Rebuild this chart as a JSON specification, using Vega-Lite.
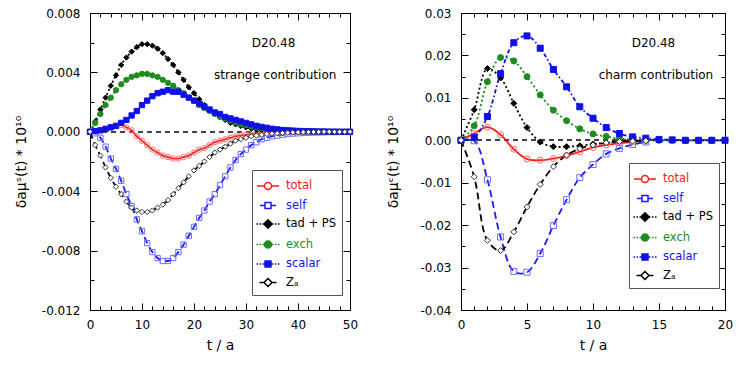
{
  "$schema": "https://vega.github.io/schema/vega-lite/v6.json",
  "padding": {"left": 13, "top": 6, "right": 2, "bottom": 2},
  "config": {
    "view": {"stroke": "#000000", "strokeWidth": 1},
    "font": "DejaVu Sans",
    "axis": {"domain": false, "grid": false, "labelFont": "DejaVu Sans", "labelFontSize": 12, "labelColor": "#000000", "tickColor": "#000000", "tickWidth": 1, "titleFont": "DejaVu Sans", "titleFontSize": 14, "titleFontWeight": "normal", "titleColor": "#000000", "labelFlush": false, "labelOverlap": false}
  },
  "datasets": {
    "strange": [
      {"t":0,"total":0,"self":0,"tadPS":0,"exch":0,"scalar":0,"ZA":0},
      {"t":1,"total":0.00005,"self":-0.0001,"tadPS":0.0007,"exch":0.0006,"scalar":0.00005,"ZA":-0.0009},
      {"t":2,"total":0.0001,"self":-0.0004,"tadPS":0.0015,"exch":0.0012,"scalar":0.0001,"ZA":-0.0016},
      {"t":3,"total":0.0002,"self":-0.001,"tadPS":0.0023,"exch":0.0018,"scalar":0.0002,"ZA":-0.0024},
      {"t":4,"total":0.0003,"self":-0.0018,"tadPS":0.0031,"exch":0.0023,"scalar":0.0003,"ZA":-0.0031},
      {"t":5,"total":0.0004,"self":-0.0025,"tadPS":0.0038,"exch":0.0028,"scalar":0.0004,"ZA":-0.0037},
      {"t":6,"total":0.00045,"self":-0.0033,"tadPS":0.0045,"exch":0.0032,"scalar":0.0006,"ZA":-0.0042},
      {"t":7,"total":0.0003,"self":-0.0042,"tadPS":0.005,"exch":0.0035,"scalar":0.0008,"ZA":-0.0047},
      {"t":8,"total":0.0001,"self":-0.005,"tadPS":0.0054,"exch":0.0037,"scalar":0.0011,"ZA":-0.0051},
      {"t":9,"total":-0.0003,"self":-0.0059,"tadPS":0.0057,"exch":0.0038,"scalar":0.0014,"ZA":-0.0053},
      {"t":10,"total":-0.0006,"self":-0.0067,"tadPS":0.0059,"exch":0.0039,"scalar":0.0018,"ZA":-0.0054},
      {"t":11,"total":-0.0009,"self":-0.0075,"tadPS":0.0059,"exch":0.0039,"scalar":0.0021,"ZA":-0.0054},
      {"t":12,"total":-0.0012,"self":-0.0081,"tadPS":0.0058,"exch":0.0038,"scalar":0.0024,"ZA":-0.0053},
      {"t":13,"total":-0.0014,"self":-0.0085,"tadPS":0.0056,"exch":0.0037,"scalar":0.0026,"ZA":-0.0051},
      {"t":14,"total":-0.0016,"self":-0.0087,"tadPS":0.0053,"exch":0.0035,"scalar":0.0027,"ZA":-0.0049},
      {"t":15,"total":-0.0017,"self":-0.0087,"tadPS":0.0049,"exch":0.0033,"scalar":0.0028,"ZA":-0.0046},
      {"t":16,"total":-0.0018,"self":-0.0085,"tadPS":0.0045,"exch":0.0031,"scalar":0.0027,"ZA":-0.0042},
      {"t":17,"total":-0.0018,"self":-0.0081,"tadPS":0.004,"exch":0.0028,"scalar":0.0027,"ZA":-0.0038},
      {"t":18,"total":-0.0017,"self":-0.0076,"tadPS":0.0035,"exch":0.0026,"scalar":0.0025,"ZA":-0.0034},
      {"t":19,"total":-0.0016,"self":-0.007,"tadPS":0.003,"exch":0.0023,"scalar":0.0023,"ZA":-0.003},
      {"t":20,"total":-0.0014,"self":-0.0064,"tadPS":0.0026,"exch":0.0021,"scalar":0.0021,"ZA":-0.0026},
      {"t":21,"total":-0.0012,"self":-0.0058,"tadPS":0.0022,"exch":0.0018,"scalar":0.0019,"ZA":-0.0023},
      {"t":22,"total":-0.0011,"self":-0.0053,"tadPS":0.0018,"exch":0.0016,"scalar":0.0017,"ZA":-0.002},
      {"t":23,"total":-0.0009,"self":-0.0047,"tadPS":0.0015,"exch":0.0014,"scalar":0.0015,"ZA":-0.0017},
      {"t":24,"total":-0.0007,"self":-0.0042,"tadPS":0.0012,"exch":0.0012,"scalar":0.0013,"ZA":-0.0014},
      {"t":25,"total":-0.0006,"self":-0.0036,"tadPS":0.001,"exch":0.001,"scalar":0.0012,"ZA":-0.0012},
      {"t":26,"total":-0.0005,"self":-0.003,"tadPS":0.0008,"exch":0.0009,"scalar":0.001,"ZA":-0.001},
      {"t":27,"total":-0.0004,"self":-0.0024,"tadPS":0.0006,"exch":0.00075,"scalar":0.0009,"ZA":-0.0008},
      {"t":28,"total":-0.0003,"self":-0.0019,"tadPS":0.0005,"exch":0.00063,"scalar":0.0008,"ZA":-0.0006},
      {"t":29,"total":-0.00025,"self":-0.0015,"tadPS":0.0004,"exch":0.00053,"scalar":0.0007,"ZA":-0.0005},
      {"t":30,"total":-0.0002,"self":-0.0012,"tadPS":0.0003,"exch":0.00044,"scalar":0.0006,"ZA":-0.0004},
      {"t":31,"total":-0.00015,"self":-0.0009,"tadPS":0.00022,"exch":0.00036,"scalar":0.0005,"ZA":-0.0003},
      {"t":32,"total":-0.00012,"self":-0.0007,"tadPS":0.00016,"exch":0.0003,"scalar":0.0004,"ZA":-0.00025},
      {"t":33,"total":-0.0001,"self":-0.0005,"tadPS":0.00012,"exch":0.00024,"scalar":0.00033,"ZA":-0.0002},
      {"t":34,"total":-0.00008,"self":-0.0004,"tadPS":0.00009,"exch":0.0002,"scalar":0.00027,"ZA":-0.00015},
      {"t":35,"total":-0.00006,"self":-0.0003,"tadPS":0.00006,"exch":0.00016,"scalar":0.0002,"ZA":-0.00012},
      {"t":36,"total":-0.00005,"self":-0.00025,"tadPS":0.00004,"exch":0.00013,"scalar":0.00016,"ZA":-0.0001},
      {"t":37,"total":-0.00004,"self":-0.0002,"tadPS":0.00003,"exch":0.0001,"scalar":0.00012,"ZA":-0.00008},
      {"t":38,"total":-0.00003,"self":-0.00015,"tadPS":0.00002,"exch":0.00008,"scalar":0.0001,"ZA":-0.00006},
      {"t":39,"total":-0.00002,"self":-0.00012,"tadPS":0.00001,"exch":0.00006,"scalar":0.00008,"ZA":-0.00004},
      {"t":40,"total":-0.00002,"self":-0.0001,"tadPS":0.00001,"exch":0.00005,"scalar":0.00006,"ZA":-0.00003},
      {"t":41,"total":-0.00001,"self":-0.00008,"tadPS":0,"exch":0.00004,"scalar":0.00005,"ZA":-0.00002},
      {"t":42,"total":-0.00001,"self":-0.00006,"tadPS":0,"exch":0.00003,"scalar":0.00004,"ZA":-0.00002},
      {"t":43,"total":0,"self":-0.00005,"tadPS":0,"exch":0.00002,"scalar":0.00003,"ZA":-0.00001},
      {"t":44,"total":0,"self":-0.00004,"tadPS":0,"exch":0.00002,"scalar":0.00002,"ZA":-0.00001},
      {"t":45,"total":0,"self":-0.00003,"tadPS":0,"exch":0.00001,"scalar":0.00002,"ZA":0},
      {"t":46,"total":0,"self":-0.00002,"tadPS":0,"exch":0.00001,"scalar":0.00001,"ZA":0},
      {"t":47,"total":0,"self":-0.00002,"tadPS":0,"exch":0,"scalar":0.00001,"ZA":0},
      {"t":48,"total":0,"self":-0.00001,"tadPS":0,"exch":0,"scalar":0,"ZA":0},
      {"t":49,"total":0,"self":-0.00001,"tadPS":0,"exch":0,"scalar":0,"ZA":0},
      {"t":50,"total":0,"self":0,"tadPS":0,"exch":0,"scalar":0,"ZA":0}
    ],
    "charm": [
      {"t":0,"total":0,"self":0,"tadPS":0,"exch":0,"scalar":0,"ZA":0},
      {"t":1,"total":0.0016,"self":-0.0001,"tadPS":0.0072,"exch":0.0034,"scalar":0.0007,"ZA":-0.0086},
      {"t":2,"total":0.0031,"self":-0.0093,"tadPS":0.0169,"exch":0.0138,"scalar":0.0056,"ZA":-0.0236},
      {"t":3,"total":0.0013,"self":-0.0228,"tadPS":0.0147,"exch":0.0195,"scalar":0.0157,"ZA":-0.026},
      {"t":4,"total":-0.0021,"self":-0.0309,"tadPS":0.0087,"exch":0.0187,"scalar":0.023,"ZA":-0.0216},
      {"t":5,"total":-0.0044,"self":-0.0311,"tadPS":0.003,"exch":0.015,"scalar":0.0246,"ZA":-0.0157},
      {"t":6,"total":-0.0047,"self":-0.0267,"tadPS":-0.0004,"exch":0.0107,"scalar":0.0217,"ZA":-0.0104},
      {"t":7,"total":-0.0043,"self":-0.0201,"tadPS":-0.0015,"exch":0.0071,"scalar":0.0167,"ZA":-0.0062},
      {"t":8,"total":-0.0036,"self":-0.014,"tadPS":-0.0015,"exch":0.0046,"scalar":0.0126,"ZA":-0.0035},
      {"t":9,"total":-0.0027,"self":-0.0088,"tadPS":-0.0013,"exch":0.0027,"scalar":0.0079,"ZA":-0.002},
      {"t":10,"total":-0.0017,"self":-0.0057,"tadPS":-0.0009,"exch":0.0015,"scalar":0.0052,"ZA":-0.0011},
      {"t":11,"total":-0.0011,"self":-0.0032,"tadPS":-0.0006,"exch":0.0009,"scalar":0.003,"ZA":-0.0006},
      {"t":12,"total":-0.0007,"self":-0.0019,"tadPS":-0.0002,"exch":0.0004,"scalar":0.0016,"ZA":-0.0003},
      {"t":13,"total":-0.0004,"self":-0.001,"tadPS":-0.0001,"exch":0.0002,"scalar":0.0008,"ZA":-0.0002},
      {"t":14,"total":-0.0002,"self":-0.0004,"tadPS":0,"exch":0.0001,"scalar":0.0005,"ZA":-0.0001},
      {"t":15,"tadPS":0,"exch":0,"scalar":0.0002},
      {"t":16,"tadPS":0,"exch":0,"scalar":0.0001},
      {"t":17,"tadPS":0,"exch":0,"scalar":0},
      {"t":18,"tadPS":0,"exch":0,"scalar":0},
      {"t":19,"tadPS":0,"exch":0,"scalar":0},
      {"t":20,"tadPS":0,"exch":0,"scalar":0}
    ]
  },
  "spacing": 27,
  "resolve": {"scale": {"color": "independent"}, "legend": {"color": "independent"}},
  "hconcat": [
    {
      "width": 260,
      "height": 297,
      "data": {"name": "strange"},
      "layer": [
        {
          "mark": {"type": "rule", "color": "#444444", "strokeDash": [5, 4], "strokeWidth": 1},
          "encoding": {"y": {"datum": 0, "type": "quantitative", "axis": null}}
        },
        {
          "transform": [{"fold": ["total", "self", "tadPS", "exch", "scalar", "ZA"], "as": ["series", "v"]}],
          "mark": {"type": "line", "interpolate": "monotone", "strokeWidth": 1.8},
          "encoding": {
            "x": {"field": "t", "type": "quantitative", "scale": {"domain": [0, 50], "nice": false, "zero": false},
              "axis": {"orient": "bottom", "values": [0, 10, 20, 30, 40, 50], "tickSize": -7, "labelPadding": 16, "title": "t / a", "titlePadding": 8}},
            "y": {"field": "v", "type": "quantitative", "scale": {"domain": [-0.012, 0.008], "nice": false, "zero": false},
              "axis": {"orient": "left", "values": [-0.012, -0.008, -0.004, 0, 0.004, 0.008], "tickSize": -7, "labelPadding": 17, "labelExpr": "replace(format(datum.value, '.3f'), '−', '-')", "title": "δaμˢ(t) * 10¹⁰", "titlePadding": 13}},
            "color": {"field": "series", "type": "nominal",
              "scale": {"domain": ["total", "self", "tadPS", "exch", "scalar", "ZA"], "range": ["#ff1a1a", "#1a1aff", "#000000", "#1e8c1e", "#1010e6", "#000000"]},
              "legend": {"title": null, "orient": "none", "legendX": 162, "legendY": 157, "direction": "vertical", "strokeColor": "#555555", "fillColor": "#ffffff", "padding": 5, "symbolSize": 400, "symbolStrokeWidth": 1.5, "labelFont": "DejaVu Sans", "labelFontSize": 11.5, "labelColor": "#000000", "labelOffset": 7, "rowPadding": 1.5,
                "labelExpr": "datum.label === 'tadPS' ? 'tad + PS' : datum.label === 'ZA' ? 'Zₐ' : datum.label",
                "encoding": {
                  "symbols": {
                    "shape": {"value": {"expr": "datum.value === 'total' ? 'M-1.1,0L-0.35,0M0.35,0L1.1,0M0.35,0A0.35,0.35,0,1,1,-0.35,0A0.35,0.35,0,1,1,0.35,0Z' : datum.value === 'self' ? 'M-0.8,0L-0.3,0M0.3,0L0.8,0M-0.3,-0.3L0.3,-0.3L0.3,0.3L-0.3,0.3Z' : datum.value === 'tadPS' ? 'M-1.15,0L-1,0M-0.85,0L-0.7,0M-0.55,0L-0.42,0M0.42,0L0.55,0M0.7,0L0.85,0M1,0L1.15,0M0,-0.42L0.42,0L0,0.42L-0.42,0Z' : datum.value === 'exch' ? 'M-1.15,0L-1,0M-0.85,0L-0.7,0M-0.55,0L-0.35,0M0.35,0L0.55,0M0.7,0L0.85,0M1,0L1.15,0M0.35,0A0.35,0.35,0,1,1,-0.35,0A0.35,0.35,0,1,1,0.35,0Z' : datum.value === 'scalar' ? 'M-1.15,0L-1,0M-0.85,0L-0.7,0M-0.55,0L-0.3,0M0.3,0L0.55,0M0.7,0L0.85,0M1,0L1.15,0M-0.3,-0.3L0.3,-0.3L0.3,0.3L-0.3,0.3Z' : 'M-0.85,0L-0.4,0M0.4,0L0.85,0M0,-0.4L0.4,0L0,0.4L-0.4,0Z'"}},
                    "fill": {"value": {"expr": "datum.value === 'tadPS' ? '#000000' : datum.value === 'exch' ? '#1e8c1e' : datum.value === 'scalar' ? '#1010e6' : '#ffffff'"}}
                  },
                  "labels": {
                    "fill": {"value": {"expr": "datum.value === 'total' ? '#ff1a1a' : datum.value === 'self' ? '#1a1aff' : datum.value === 'exch' ? '#1e8c1e' : datum.value === 'scalar' ? '#1010e6' : '#000000'"}}
                  }
                }
              }},
            "strokeDash": {"field": "series", "type": "nominal",
              "scale": {"domain": ["total", "self", "tadPS", "exch", "scalar", "ZA"], "range": [[1, 0], [7, 4], [2, 2.5], [2, 2.5], [4, 2.5, 1.5, 2.5], [7, 4]]}, "legend": null}
          }
        },
        {
          "transform": [{"fold": ["total", "self", "tadPS", "exch", "scalar", "ZA"], "as": ["series", "v"]}],
          "mark": {"type": "point", "opacity": 1, "size": 28, "strokeWidth": 1},
          "encoding": {
            "x": {"field": "t", "type": "quantitative", "scale": {"domain": [0, 50], "nice": false, "zero": false},
              "axis": {"orient": "bottom", "values": [0,2,4,6,8,10,12,14,16,18,20,22,24,26,28,30,32,34,36,38,40,42,44,46,48,50], "tickSize": -4, "labels": false, "title": null}},
            "y": {"field": "v", "type": "quantitative", "scale": {"domain": [-0.012, 0.008], "nice": false, "zero": false},
              "axis": {"orient": "left", "values": [-0.012,-0.01,-0.008,-0.006,-0.004,-0.002,0,0.002,0.004,0.006,0.008], "tickSize": -4, "labels": false, "title": null}},
            "shape": {"field": "series", "type": "nominal", "scale": {"domain": ["total", "self", "tadPS", "exch", "scalar", "ZA"], "range": ["circle", "square", "diamond", "circle", "square", "diamond"]}, "legend": null},
            "stroke": {"field": "series", "type": "nominal", "scale": {"domain": ["total", "self", "tadPS", "exch", "scalar", "ZA"], "range": ["#ff6a6a", "#6b6bff", "#000000", "#1e8c1e", "#1010e6", "#333333"]}, "legend": null},
            "fill": {"field": "series", "type": "nominal", "scale": {"domain": ["total", "self", "tadPS", "exch", "scalar", "ZA"], "range": ["transparent", "transparent", "#000000", "#1e8c1e", "#1010e6", "#ffffff"]}, "legend": null}
          }
        },
        {
          "data": {"values": [{"t": 35.3, "v": 0.00598, "txt": "D20.48"}, {"t": 35.6, "v": 0.00382, "txt": "strange contribution"}]},
          "mark": {"type": "text", "fontSize": 12, "font": "DejaVu Sans", "color": "#000000"},
          "encoding": {
            "x": {"field": "t", "type": "quantitative", "scale": {"domain": [0, 50], "nice": false, "zero": false},
              "axis": {"orient": "top", "values": [0, 10, 20, 30, 40, 50], "tickSize": -7, "labels": false, "title": null}},
            "y": {"field": "v", "type": "quantitative", "scale": {"domain": [-0.012, 0.008], "nice": false, "zero": false},
              "axis": {"orient": "right", "values": [-0.012, -0.008, -0.004, 0, 0.004, 0.008], "tickSize": -7, "labels": false, "title": null}},
            "text": {"field": "txt", "type": "nominal"}
          }
        },
        {
          "transform": [{"fold": ["total"], "as": ["series", "v"]}],
          "mark": {"type": "point", "opacity": 0, "size": 1},
          "encoding": {
            "x": {"field": "t", "type": "quantitative", "scale": {"domain": [0, 50], "nice": false, "zero": false},
              "axis": {"orient": "top", "values": [0,2,4,6,8,10,12,14,16,18,20,22,24,26,28,30,32,34,36,38,40,42,44,46,48,50], "tickSize": -4, "labels": false, "title": null}},
            "y": {"field": "v", "type": "quantitative", "scale": {"domain": [-0.012, 0.008], "nice": false, "zero": false},
              "axis": {"orient": "right", "values": [-0.012,-0.01,-0.008,-0.006,-0.004,-0.002,0,0.002,0.004,0.006,0.008], "tickSize": -4, "labels": false, "title": null}}
          }
        }
      ],
      "resolve": {"axis": {"x": "independent", "y": "independent"}}
    },
    {
      "width": 264,
      "height": 297,
      "data": {"name": "charm"},
      "layer": [
        {
          "mark": {"type": "rule", "color": "#444444", "strokeDash": [5, 4], "strokeWidth": 1},
          "encoding": {"y": {"datum": 0, "type": "quantitative", "axis": null}}
        },
        {
          "transform": [{"fold": ["total", "self", "tadPS", "exch", "scalar", "ZA"], "as": ["series", "v"]}],
          "mark": {"type": "line", "interpolate": "catmull-rom", "strokeWidth": 1.8},
          "encoding": {
            "x": {"field": "t", "type": "quantitative", "scale": {"domain": [0, 20], "nice": false, "zero": false},
              "axis": {"orient": "bottom", "values": [0, 5, 10, 15, 20], "tickSize": -7, "labelPadding": 16, "title": "t / a", "titlePadding": 8}},
            "y": {"field": "v", "type": "quantitative", "scale": {"domain": [-0.04, 0.03], "nice": false, "zero": false},
              "axis": {"orient": "left", "values": [-0.04, -0.03, -0.02, -0.01, 0, 0.01, 0.02, 0.03], "tickSize": -7, "labelPadding": 17, "labelExpr": "replace(format(datum.value, '.2f'), '−', '-')", "title": "δaμᶜ(t) * 10¹⁰", "titlePadding": 19}},
            "color": {"field": "series", "type": "nominal",
              "scale": {"domain": ["total", "self", "tadPS", "exch", "scalar", "ZA"], "range": ["#ff1a1a", "#1a1aff", "#000000", "#1e8c1e", "#1010e6", "#000000"]},
              "legend": {"title": null, "orient": "none", "legendX": 168, "legendY": 150, "direction": "vertical", "strokeColor": "#555555", "fillColor": "#ffffff", "padding": 5, "symbolSize": 400, "symbolStrokeWidth": 1.5, "labelFont": "DejaVu Sans", "labelFontSize": 11.5, "labelColor": "#000000", "labelOffset": 7, "rowPadding": 1.5,
                "labelExpr": "datum.label === 'tadPS' ? 'tad + PS' : datum.label === 'ZA' ? 'Zₐ' : datum.label",
                "encoding": {
                  "symbols": {
                    "shape": {"value": {"expr": "datum.value === 'total' ? 'M-1.1,0L-0.35,0M0.35,0L1.1,0M0.35,0A0.35,0.35,0,1,1,-0.35,0A0.35,0.35,0,1,1,0.35,0Z' : datum.value === 'self' ? 'M-0.8,0L-0.3,0M0.3,0L0.8,0M-0.3,-0.3L0.3,-0.3L0.3,0.3L-0.3,0.3Z' : datum.value === 'tadPS' ? 'M-1.15,0L-1,0M-0.85,0L-0.7,0M-0.55,0L-0.42,0M0.42,0L0.55,0M0.7,0L0.85,0M1,0L1.15,0M0,-0.42L0.42,0L0,0.42L-0.42,0Z' : datum.value === 'exch' ? 'M-1.15,0L-1,0M-0.85,0L-0.7,0M-0.55,0L-0.35,0M0.35,0L0.55,0M0.7,0L0.85,0M1,0L1.15,0M0.35,0A0.35,0.35,0,1,1,-0.35,0A0.35,0.35,0,1,1,0.35,0Z' : datum.value === 'scalar' ? 'M-1.15,0L-1,0M-0.85,0L-0.7,0M-0.55,0L-0.3,0M0.3,0L0.55,0M0.7,0L0.85,0M1,0L1.15,0M-0.3,-0.3L0.3,-0.3L0.3,0.3L-0.3,0.3Z' : 'M-0.85,0L-0.4,0M0.4,0L0.85,0M0,-0.4L0.4,0L0,0.4L-0.4,0Z'"}},
                    "fill": {"value": {"expr": "datum.value === 'tadPS' ? '#000000' : datum.value === 'exch' ? '#1e8c1e' : datum.value === 'scalar' ? '#1010e6' : '#ffffff'"}}
                  },
                  "labels": {
                    "fill": {"value": {"expr": "datum.value === 'total' ? '#ff1a1a' : datum.value === 'self' ? '#1a1aff' : datum.value === 'exch' ? '#1e8c1e' : datum.value === 'scalar' ? '#1010e6' : '#000000'"}}
                  }
                }
              }},
            "strokeDash": {"field": "series", "type": "nominal",
              "scale": {"domain": ["total", "self", "tadPS", "exch", "scalar", "ZA"], "range": [[1, 0], [7, 4], [2, 2.5], [2, 2.5], [4, 2.5, 1.5, 2.5], [7, 4]]}, "legend": null}
          }
        },
        {
          "transform": [{"fold": ["total", "self", "tadPS", "exch", "scalar", "ZA"], "as": ["series", "v"]}],
          "mark": {"type": "point", "opacity": 1, "size": 36, "strokeWidth": 1},
          "encoding": {
            "x": {"field": "t", "type": "quantitative", "scale": {"domain": [0, 20], "nice": false, "zero": false},
              "axis": {"orient": "bottom", "values": [0,1,2,3,4,5,6,7,8,9,10,11,12,13,14,15,16,17,18,19,20], "tickSize": -4, "labels": false, "title": null}},
            "y": {"field": "v", "type": "quantitative", "scale": {"domain": [-0.04, 0.03], "nice": false, "zero": false},
              "axis": {"orient": "left", "values": [-0.04,-0.035,-0.03,-0.025,-0.02,-0.015,-0.01,-0.005,0,0.005,0.01,0.015,0.02,0.025,0.03], "tickSize": -4, "labels": false, "title": null}},
            "shape": {"field": "series", "type": "nominal", "scale": {"domain": ["total", "self", "tadPS", "exch", "scalar", "ZA"], "range": ["circle", "square", "diamond", "circle", "square", "diamond"]}, "legend": null},
            "stroke": {"field": "series", "type": "nominal", "scale": {"domain": ["total", "self", "tadPS", "exch", "scalar", "ZA"], "range": ["#ff6a6a", "#6b6bff", "#000000", "#1e8c1e", "#1010e6", "#333333"]}, "legend": null},
            "fill": {"field": "series", "type": "nominal", "scale": {"domain": ["total", "self", "tadPS", "exch", "scalar", "ZA"], "range": ["transparent", "transparent", "#000000", "#1e8c1e", "#1010e6", "#ffffff"]}, "legend": null}
          }
        },
        {
          "data": {"values": [{"t": 14.58, "v": 0.02295, "txt": "D20.48"}, {"t": 14.77, "v": 0.0154, "txt": "charm contribution"}]},
          "mark": {"type": "text", "fontSize": 12, "font": "DejaVu Sans", "color": "#000000"},
          "encoding": {
            "x": {"field": "t", "type": "quantitative", "scale": {"domain": [0, 20], "nice": false, "zero": false},
              "axis": {"orient": "top", "values": [0, 5, 10, 15, 20], "tickSize": -7, "labels": false, "title": null}},
            "y": {"field": "v", "type": "quantitative", "scale": {"domain": [-0.04, 0.03], "nice": false, "zero": false},
              "axis": {"orient": "right", "values": [-0.04, -0.03, -0.02, -0.01, 0, 0.01, 0.02, 0.03], "tickSize": -7, "labels": false, "title": null}},
            "text": {"field": "txt", "type": "nominal"}
          }
        },
        {
          "transform": [{"fold": ["tadPS"], "as": ["series", "v"]}],
          "mark": {"type": "point", "opacity": 0, "size": 1},
          "encoding": {
            "x": {"field": "t", "type": "quantitative", "scale": {"domain": [0, 20], "nice": false, "zero": false},
              "axis": {"orient": "top", "values": [0,1,2,3,4,5,6,7,8,9,10,11,12,13,14,15,16,17,18,19,20], "tickSize": -4, "labels": false, "title": null}},
            "y": {"field": "v", "type": "quantitative", "scale": {"domain": [-0.04, 0.03], "nice": false, "zero": false},
              "axis": {"orient": "right", "values": [-0.04,-0.035,-0.03,-0.025,-0.02,-0.015,-0.01,-0.005,0,0.005,0.01,0.015,0.02,0.025,0.03], "tickSize": -4, "labels": false, "title": null}}
          }
        }
      ],
      "resolve": {"axis": {"x": "independent", "y": "independent"}}
    }
  ]
}
